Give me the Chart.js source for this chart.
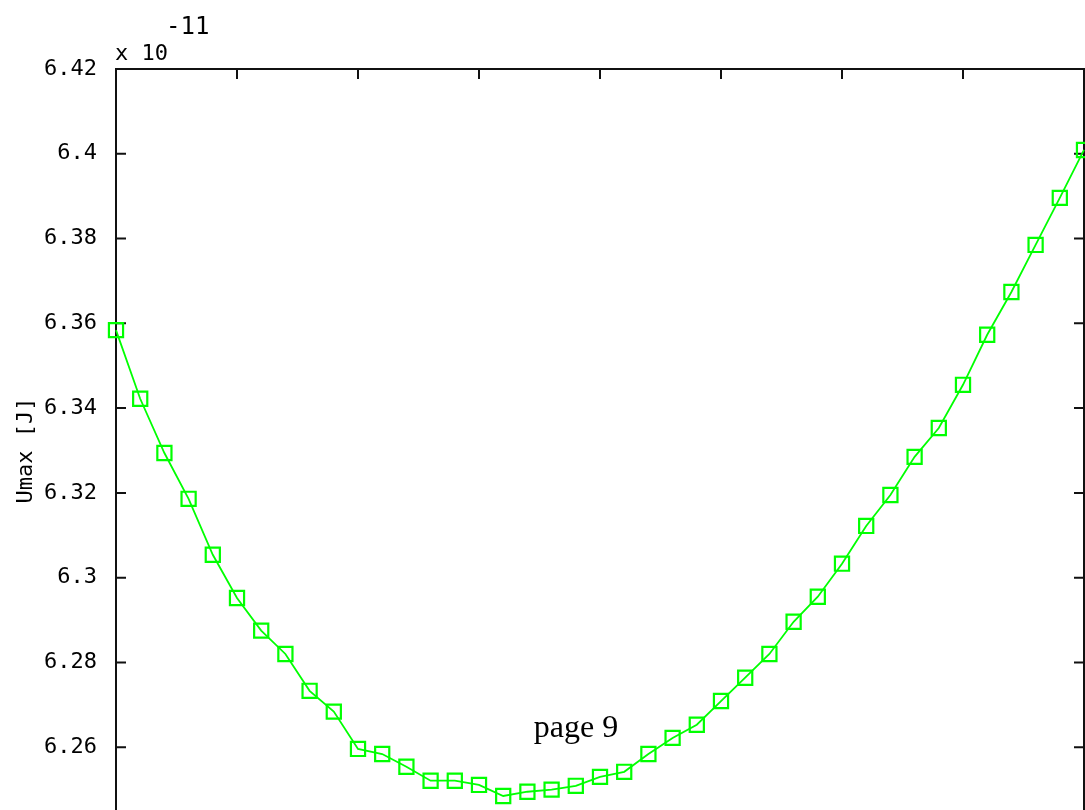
<!DOCTYPE html>
<html>
<head>
<meta charset="utf-8">
<script src="https://cdn.jsdelivr.net/npm/chart.js@4.4.1/dist/chart.umd.min.js"></script>
<style>
    html, body { margin: 0; padding: 0; background: #fff; overflow: hidden; }
</style>
</head>
<body>
<canvas id="umaxChart" width="1085" height="900"></canvas>
<script>
// sample number along the sweep (x labels are outside the visible picture)
const sampleIndex = [0, 1, 2, 3, 4, 5, 6, 7, 8, 9, 10, 11, 12, 13, 14, 15, 16, 17, 18, 19, 20,
    21, 22, 23, 24, 25, 26, 27, 28, 29, 30, 31, 32, 33, 34, 35, 36, 37, 38, 39, 40];
// Umax in units of 1e-11 J
const umaxValues = [6.3584, 6.3422, 6.3294, 6.3186, 6.3054, 6.2952, 6.2875, 6.2820, 6.2733, 6.2684,
    6.2596, 6.2584, 6.2554, 6.2521, 6.2521, 6.2511, 6.2485, 6.2495, 6.2500, 6.2509,
    6.2530, 6.2542, 6.2584, 6.2622, 6.2653, 6.2709, 6.2764, 6.2820, 6.2896, 6.2955,
    6.3033, 6.3122, 6.3195, 6.3285, 6.3353, 6.3455, 6.3573, 6.3674, 6.3785, 6.3896, 6.4009];
const yTickValues = [6.24, 6.26, 6.28, 6.30, 6.32, 6.34, 6.36, 6.38, 6.40, 6.42];
const xTickValues = [0, 5, 10, 15, 20, 25, 30, 35, 40];

const monoFont = '"DejaVu Sans Mono", monospace';
const tickLen = 10;

const frameTicks = {
    id: 'frameTicks',
    beforeDatasetsDraw(chart) {
        const { ctx, chartArea: a, scales: { x, y } } = chart;
        ctx.save();
        ctx.strokeStyle = '#111';
        ctx.lineWidth = 2;
        ctx.strokeRect(a.left, a.top, a.right - a.left, a.bottom - a.top);
        ctx.beginPath();
        xTickValues.forEach(v => {
            const px = x.getPixelForValue(v);
            ctx.moveTo(px, a.top); ctx.lineTo(px, a.top + tickLen);
            ctx.moveTo(px, a.bottom); ctx.lineTo(px, a.bottom - tickLen);
        });
        yTickValues.forEach(v => {
            const py = y.getPixelForValue(v);
            ctx.moveTo(a.left, py); ctx.lineTo(a.left + tickLen, py);
            ctx.moveTo(a.right, py); ctx.lineTo(a.right - tickLen, py);
        });
        ctx.stroke();

        // exponent label
        ctx.fillStyle = '#000';
        ctx.textAlign = 'left';
        ctx.textBaseline = 'alphabetic';
        ctx.font = '22px ' + monoFont;
        ctx.fillText('x 10', a.left - 1, a.top - 9);
        ctx.font = '24px ' + monoFont;
        ctx.fillText('-11', a.left + 50, a.top - 35);

        // page marker
        ctx.font = '32px "Liberation Serif", serif';
        ctx.textAlign = 'center';
        ctx.fillText('page 9', 576, 737);
        ctx.restore();
    }
};

const ctx = document.getElementById('umaxChart').getContext('2d');
new Chart(ctx, {
    type: 'line',
    data: {
        datasets: [{
            label: 'Umax',
            data: sampleIndex.map((v, i) => ({ x: v, y: umaxValues[i] })),
            borderColor: '#00ff00',
            borderWidth: 1.8,
            backgroundColor: 'rgba(0,0,0,0)',
            pointStyle: 'rect',
            pointRadius: 10,
            pointBorderWidth: 2.2,
            pointBorderColor: '#00ff00',
            pointBackgroundColor: 'rgba(0,0,0,0)',
            tension: 0,
            clip: false
        }]
    },
    options: {
        responsive: false,
        animation: false,
        layout: { autoPadding: false, padding: { top: 69, right: 1, bottom: 68, left: 0 } },
        plugins: {
            legend: { display: false },
            tooltip: { enabled: false }
        },
        scales: {
            x: {
                type: 'linear',
                display: false,
                min: 0,
                max: 40
            },
            y: {
                type: 'linear',
                min: 6.24,
                max: 6.42,
                afterBuildTicks: scale => {
                    scale.ticks = yTickValues.map(v => ({ value: v }));
                },
                afterFit: scale => { scale.width = 116; },
                grid: { display: false },
                border: { display: false },
                ticks: {
                    padding: 11,
                    color: '#000',
                    font: { family: monoFont, size: 22 },
                    callback: v => String(Number(v.toFixed(2)))
                },
                title: {
                    display: true,
                    text: 'Umax [J]',
                    color: '#000',
                    font: { family: monoFont, size: 22 },
                    padding: { top: 13, bottom: 0 }
                }
            }
        }
    },
    plugins: [frameTicks]
});
</script>
</body>
</html>
